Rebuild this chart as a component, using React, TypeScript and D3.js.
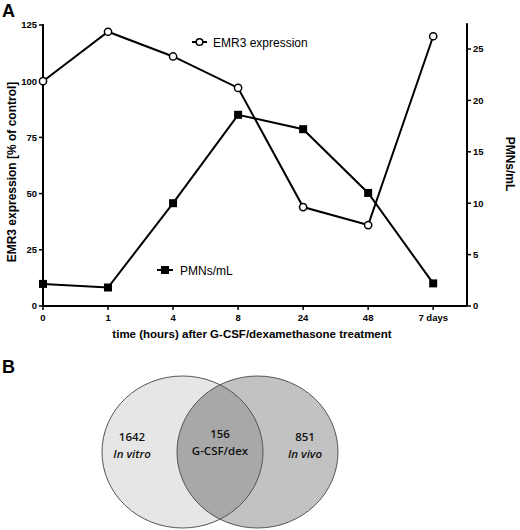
import React from "react";
import { scaleLinear, line } from "d3";

const timeLabels = ["0", "1", "4", "8", "24", "48", "7 days"];
const emr3 = [100, 122, 111, 97, 44, 36, 120];
const pmns = [2.15, 1.8, 10, 18.6, 17.2, 11, 2.2];
const leftTicks = [0, 25, 50, 75, 100, 125];
const rightTicks = [0, 5, 10, 15, 20, 25];

const vennCounts = ["1642", "156", "851"];
const vennNames = ["In vitro", "G-CSF/dex", "In vivo"];

const W = 520;
const H = 530;

export default function App() {
  /* plot box */
  const left = 43;
  const right = 467;
  const bottom = 306;

  const x = scaleLinear().domain([0, 6.52]).range([left, right]);
  const yL = scaleLinear().domain([0, 125]).range([bottom, 25]);
  const yR = scaleLinear().domain([0, 25]).range([bottom, 49]);

  const emrLine = line<number>()
    .x((_, i) => x(i))
    .y((d) => yL(d));
  const pmnLine = line<number>()
    .x((_, i) => x(i))
    .y((d) => yR(d));

  const axisFont = "'Liberation Sans', Arial, sans-serif";
  const vennFont = "'Open Sans', 'DejaVu Sans', sans-serif";

  /* venn */
  const vx = scaleLinear().domain([0, 1]).range([182.5, 257.5]);
  const vy = 452;
  const rx = 80.5;
  const ry = 76;
  const textX = [132, 220, 305];
  const line1Y = [441, 438, 441];
  const line2Y = [457.5, 454.5, 457.5];

  return (
    <svg
      width={W}
      height={H}
      style={{ position: "absolute", left: 0, top: 0, background: "#fff" }}
    >
      <rect width={W} height={H} fill="#fff" />
      <text x={2} y={17} fontFamily={axisFont} fontWeight="bold" fontSize={18}>
        A
      </text>

      {/* axes */}
      <line x1={left} x2={left} y1={yL(125) - 1} y2={bottom} stroke="#000" strokeWidth={2} />
      <line x1={right} x2={right} y1={yR(27.5)} y2={bottom} stroke="#000" strokeWidth={2} />
      <line x1={left} x2={right} y1={bottom} y2={bottom} stroke="#000" strokeWidth={2} />

      {leftTicks.map((t) => (
        <g key={"l" + t} transform={`translate(${left}, ${yL(t)})`}>
          <line x1={-4} x2={0} stroke="#000" strokeWidth={1.5} />
          <text x={-6} dy="0.35em" textAnchor="end" fontFamily={axisFont} fontWeight="bold" fontSize={9.5}>
            {t}
          </text>
        </g>
      ))}
      {rightTicks.map((t) => (
        <g key={"r" + t} transform={`translate(${right}, ${yR(t)})`}>
          <line x1={0} x2={4} stroke="#000" strokeWidth={1.5} />
          <text x={6} dy="0.35em" textAnchor="start" fontFamily={axisFont} fontWeight="bold" fontSize={9.5}>
            {t}
          </text>
        </g>
      ))}
      {timeLabels.map((t, i) => (
        <g key={"x" + t} transform={`translate(${x(i)}, ${bottom})`}>
          <line y1={0} y2={4} stroke="#000" strokeWidth={1.5} />
          <text y={15} textAnchor="middle" fontFamily={axisFont} fontWeight="bold" fontSize={9.5}>
            {t}
          </text>
        </g>
      ))}

      <text
        x={252}
        y={338}
        textAnchor="middle"
        fontFamily={axisFont}
        fontWeight="bold"
        fontSize={11.5}
      >
        time (hours) after G-CSF/dexamethasone treatment
      </text>
      <text
        transform="translate(16, 172) rotate(-90)"
        textAnchor="middle"
        fontFamily={axisFont}
        fontWeight="bold"
        fontSize={12}
      >
        EMR3 expression [% of control]
      </text>
      <text
        transform="translate(506, 164) rotate(90)"
        textAnchor="middle"
        fontFamily={axisFont}
        fontWeight="bold"
        fontSize={12}
      >
        PMNs/mL
      </text>

      {/* series */}
      <path d={pmnLine(pmns) ?? ""} fill="none" stroke="#000" strokeWidth={2} />
      <path d={emrLine(emr3) ?? ""} fill="none" stroke="#000" strokeWidth={2} />
      {pmns.map((d, i) => (
        <rect key={"p" + i} x={x(i) - 4} y={yR(d) - 4} width={8} height={8} fill="#000" />
      ))}
      {emr3.map((d, i) => (
        <circle key={"e" + i} cx={x(i)} cy={yL(d)} r={3.6} fill="#fff" stroke="#000" strokeWidth={1.5} />
      ))}

      {/* legends */}
      <line x1={192} x2={207} y1={42} y2={42} stroke="#000" strokeWidth={2} />
      <circle cx={199.5} cy={42} r={3.3} fill="#fff" stroke="#000" strokeWidth={1.5} />
      <text x={213} y={46.5} fontFamily={axisFont} fontSize={12}>
        EMR3 expression
      </text>
      <line x1={157} x2={173} y1={270} y2={270} stroke="#000" strokeWidth={2} />
      <rect x={161} y={266} width={8} height={8} fill="#000" />
      <text x={180} y={274.5} fontFamily={axisFont} fontSize={12}>
        PMNs/mL
      </text>

      {/* panel B */}
      <text x={2} y={373} fontFamily={axisFont} fontWeight="bold" fontSize={18}>
        B
      </text>
      <defs>
        <clipPath id="leftClip">
          <ellipse cx={vx(0)} cy={vy} rx={rx} ry={ry} />
        </clipPath>
      </defs>
      <ellipse cx={vx(0)} cy={vy} rx={rx} ry={ry} fill="#e6e6e6" />
      <ellipse cx={vx(1)} cy={vy} rx={rx} ry={ry} fill="#c2c2c2" />
      <ellipse cx={vx(1)} cy={vy} rx={rx} ry={ry} fill="#a8a8a8" clipPath="url(#leftClip)" />
      <ellipse cx={vx(0)} cy={vy} rx={rx} ry={ry} fill="none" stroke="#555" strokeWidth={1} />
      <ellipse cx={vx(1)} cy={vy} rx={rx} ry={ry} fill="none" stroke="#555" strokeWidth={1} />

      {vennCounts.map((c, i) => (
        <g key={"v" + i} fontFamily={vennFont} fontWeight={600} fontSize={11.5} textAnchor="middle" fill="#111">
          <text x={textX[i]} y={line1Y[i]}>{c}</text>
          <text x={textX[i]} y={line2Y[i]} fontStyle={i === 1 ? "normal" : "italic"}>
            {vennNames[i]}
          </text>
        </g>
      ))}
    </svg>
  );
}
